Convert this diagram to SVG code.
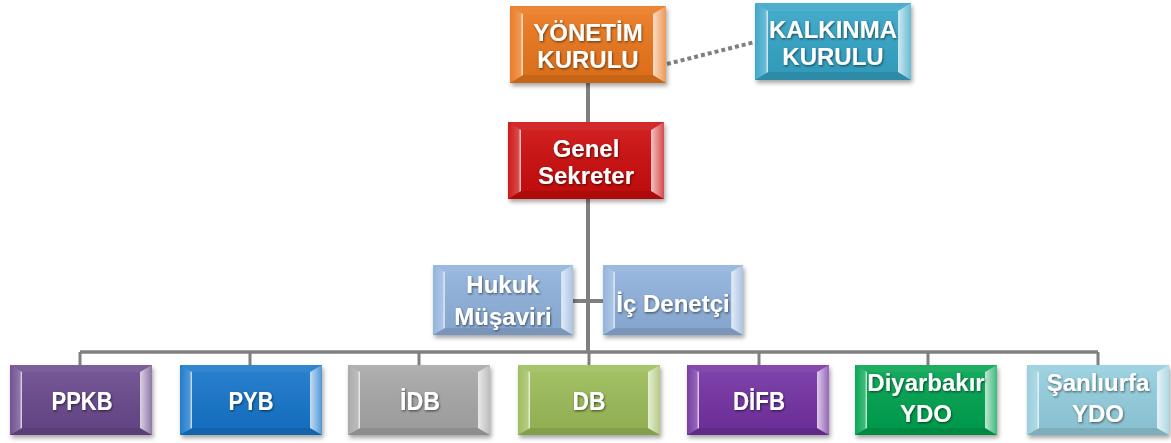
<svg xmlns="http://www.w3.org/2000/svg" xmlns:xlink="http://www.w3.org/1999/xlink" width="1171" height="443" viewBox="0 0 1171 443">
<style>
.lbl{font-family:"Liberation Sans",Arial,sans-serif;font-weight:bold;fill:#ffffff;text-anchor:middle;filter:url(#ts)}
.big{font-size:24px}
.sm{font-size:25px}
.box{filter:url(#bs)}
.conn{stroke:#7f7f7f;fill:none}
</style>
<defs>
<filter id="bs" x="-10%" y="-10%" width="125%" height="130%">
<feDropShadow dx="1.5" dy="3" stdDeviation="2" flood-color="#000" flood-opacity="0.35"/>
</filter>
<filter id="ts" x="-10%" y="-20%" width="120%" height="150%">
<feDropShadow dx="0.8" dy="1.2" stdDeviation="0.8" flood-color="#000" flood-opacity="0.55"/>
</filter>
<linearGradient id="gl" x1="0" y1="0" x2="1" y2="0">
<stop offset="0" stop-color="#fff" stop-opacity="0.05"/>
<stop offset="0.8" stop-color="#fff" stop-opacity="0.25"/>
<stop offset="1" stop-color="#fff" stop-opacity="0.85"/>
</linearGradient>
<linearGradient id="gr" x1="0" y1="0" x2="1" y2="0">
<stop offset="0" stop-color="#fff" stop-opacity="0.75"/>
<stop offset="1" stop-color="#fff" stop-opacity="0.25"/>
</linearGradient>
<linearGradient id="gf" x1="0" y1="0" x2="0" y2="1">
<stop offset="0" stop-color="#fff" stop-opacity="0.08"/>
<stop offset="1" stop-color="#000" stop-opacity="0.06"/>
</linearGradient>
<g id="bevA">
<polygon points="0,0 156,0 143,8 13,8" fill="#fff" fill-opacity="0.12"/>
<polygon points="0,77 156,77 143,69 13,69" fill="#000" fill-opacity="0.15"/>
<polygon points="0,0 13,8 13,69 0,77" fill="url(#gl)"/>
<polygon points="156,0 143,8 143,69 156,77" fill="url(#gr)"/>
<rect x="13" y="8" width="130" height="61" fill="url(#gf)"/>
</g>
<g id="bevB">
<polygon points="0,0 142,0 130,7 12,7" fill="#fff" fill-opacity="0.12"/>
<polygon points="0,70 142,70 130,63 12,63" fill="#000" fill-opacity="0.15"/>
<polygon points="0,0 12,7 12,63 0,70" fill="url(#gl)"/>
<polygon points="142,0 130,7 130,63 142,70" fill="url(#gr)"/>
<rect x="12" y="7" width="118" height="56" fill="url(#gf)"/>
</g>
</defs>

<g id="connectors">
<line class="conn" x1="667" y1="64" x2="755" y2="42" stroke-width="4" stroke-dasharray="4 3"/>
<line class="conn" x1="588" y1="83" x2="588" y2="352" stroke-width="4"/>
<line class="conn" x1="573" y1="301" x2="603" y2="301" stroke-width="4"/>
<line class="conn" x1="80" y1="352" x2="1098" y2="352" stroke-width="3.5"/>
<line class="conn" x1="80" y1="352" x2="80" y2="366" stroke-width="3"/>
<line class="conn" x1="250" y1="352" x2="250" y2="366" stroke-width="3"/>
<line class="conn" x1="419" y1="352" x2="419" y2="366" stroke-width="3"/>
<line class="conn" x1="589" y1="352" x2="589" y2="366" stroke-width="3"/>
<line class="conn" x1="759" y1="352" x2="759" y2="366" stroke-width="3"/>
<line class="conn" x1="928" y1="352" x2="928" y2="366" stroke-width="3"/>
<line class="conn" x1="1098" y1="352" x2="1098" y2="366" stroke-width="3"/>
</g>

<g id="yonetim">
<rect class="box" x="510" y="6" width="156" height="77" fill="#e9761e"/>
<use href="#bevA" x="510" y="6"/>
<text class="lbl big" x="588" y="41">YÖNETİM</text>
<text class="lbl big" x="588" y="68">KURULU</text>
</g>

<g id="kalkinma">
<rect class="box" x="755" y="3" width="156" height="77" fill="#35a4c6"/>
<use href="#bevA" x="755" y="3"/>
<text class="lbl big" x="833" y="38">KALKINMA</text>
<text class="lbl big" x="833" y="65">KURULU</text>
</g>

<g id="genel">
<rect class="box" x="508" y="122" width="156" height="77" fill="#cc0a0a"/>
<use href="#bevA" x="508" y="122"/>
<text class="lbl big" x="586" y="157">Genel</text>
<text class="lbl big" x="586" y="184">Sekreter</text>
</g>

<g id="hukuk">
<rect class="box" x="433" y="265" width="140" height="70" fill="#8fb1db"/>
<use href="#bevB" transform="translate(433,265) scale(0.986,1)"/>
<text class="lbl big" x="503" y="293">Hukuk</text>
<text class="lbl big" x="503" y="325">Müşaviri</text>
</g>

<g id="icdenetci">
<rect class="box" x="603" y="265" width="140" height="70" fill="#8fb1db"/>
<use href="#bevB" transform="translate(603,265) scale(0.986,1)"/>
<text class="lbl big" x="673" y="312">İç Denetçi</text>
</g>

<g id="ppkb">
<rect class="box" x="10" y="365" width="142" height="70" fill="#6a4a8c"/>
<use href="#bevB" x="10" y="365"/>
<text class="lbl sm" x="82" y="410" textLength="61" lengthAdjust="spacingAndGlyphs">PPKB</text>
</g>

<g id="pyb">
<rect class="box" x="180" y="365" width="142" height="70" fill="#1574c9"/>
<use href="#bevB" x="180" y="365"/>
<text class="lbl sm" x="251" y="410" textLength="45" lengthAdjust="spacingAndGlyphs">PYB</text>
</g>

<g id="idb">
<rect class="box" x="348" y="365" width="142" height="70" fill="#a6a6a6"/>
<use href="#bevB" x="348" y="365"/>
<text class="lbl sm" x="420" y="410" textLength="40" lengthAdjust="spacingAndGlyphs">İDB</text>
</g>

<g id="db">
<rect class="box" x="518" y="365" width="142" height="70" fill="#9bbb59"/>
<use href="#bevB" x="518" y="365"/>
<text class="lbl sm" x="589" y="410" textLength="33" lengthAdjust="spacingAndGlyphs">DB</text>
</g>

<g id="difb">
<rect class="box" x="687" y="365" width="142" height="70" fill="#7332a2"/>
<use href="#bevB" x="687" y="365"/>
<text class="lbl sm" x="759" y="410" textLength="52" lengthAdjust="spacingAndGlyphs">DİFB</text>
</g>

<g id="diyarbakir">
<rect class="box" x="855" y="365" width="142" height="70" fill="#06a24f"/>
<use href="#bevB" x="855" y="365"/>
<text class="lbl big" x="926" y="391">Diyarbakır</text>
<text class="lbl big" x="926" y="422">YDO</text>
</g>

<g id="sanliurfa">
<rect class="box" x="1027" y="365" width="142" height="70" fill="#93cddd"/>
<use href="#bevB" x="1027" y="365"/>
<text class="lbl big" x="1098" y="391">Şanlıurfa</text>
<text class="lbl big" x="1098" y="422">YDO</text>
</g>
</svg>
